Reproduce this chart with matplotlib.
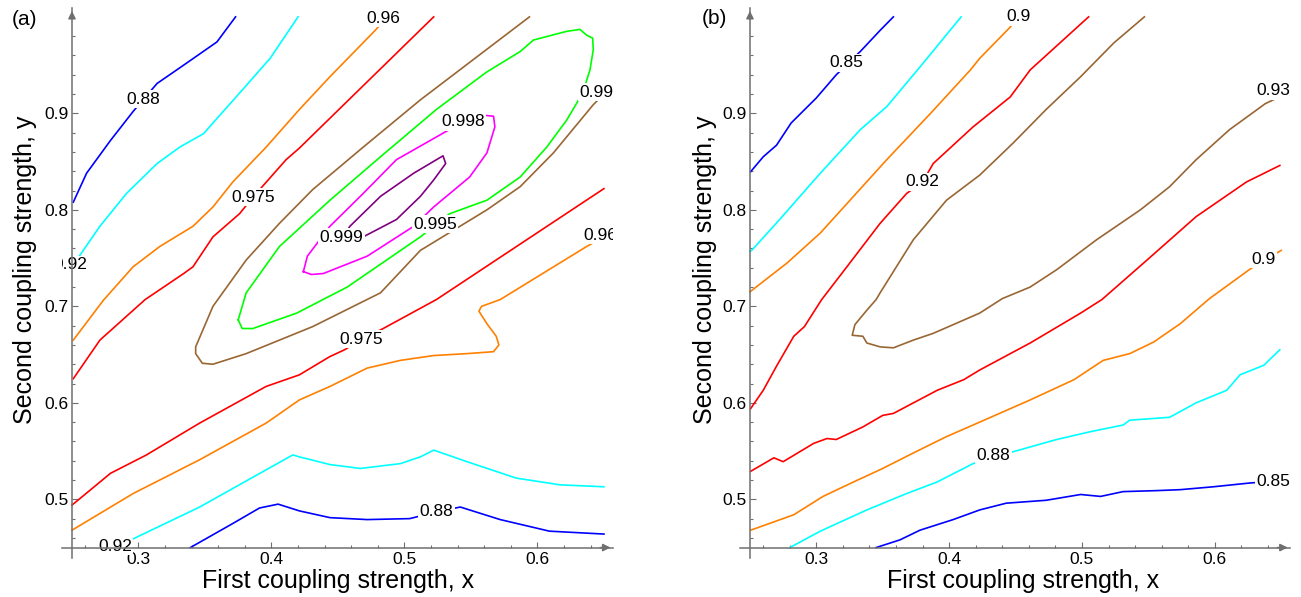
import numpy as np
import matplotlib
matplotlib.use('Agg')
import matplotlib.pyplot as plt

plt.rcParams['font.family'] = ['Liberation Sans', 'DejaVu Sans']

# ---- panel (a) contour lines ----
a_088_top_x = [0.251, 0.261, 0.279, 0.296, 0.304, 0.314, 0.334, 0.359, 0.373]
a_088_top_y = [0.808, 0.838, 0.872, 0.902, 0.915, 0.931, 0.950, 0.974, 1.000]
a_092_top_x = [0.250, 0.257, 0.271, 0.291, 0.314, 0.331, 0.349, 0.356, 0.376, 0.399, 0.420]
a_092_top_y = [0.741, 0.755, 0.783, 0.817, 0.848, 0.865, 0.879, 0.890, 0.921, 0.957, 1.000]
a_096_top_x = [0.251, 0.274, 0.276, 0.296, 0.316, 0.341, 0.356, 0.371, 0.396, 0.421, 0.444, 0.478, 0.487]
a_096_top_y = [0.665, 0.707, 0.710, 0.741, 0.762, 0.783, 0.803, 0.829, 0.865, 0.904, 0.938, 0.986, 1.000]
a_0975_top_x = [0.251, 0.271, 0.305, 0.334, 0.341, 0.356, 0.376, 0.386, 0.411, 0.421, 0.444, 0.522]
a_0975_top_y = [0.625, 0.665, 0.707, 0.734, 0.741, 0.772, 0.796, 0.813, 0.852, 0.864, 0.895, 1.000]
a_099_x = [0.594, 0.512, 0.469, 0.431, 0.406, 0.381, 0.356, 0.343, 0.343, 0.348, 0.356, 0.381,
           0.431, 0.482, 0.512, 0.537, 0.562, 0.587, 0.612, 0.642, 0.650]
a_099_y = [1.000, 0.914, 0.865, 0.821, 0.786, 0.748, 0.700, 0.658, 0.651, 0.641, 0.640, 0.651,
           0.679, 0.714, 0.758, 0.779, 0.800, 0.824, 0.859, 0.909, 0.920]
a_0995_x = [0.375, 0.381, 0.406, 0.444, 0.482, 0.524, 0.562, 0.587, 0.597, 0.622, 0.632, 0.637,
            0.6415, 0.642, 0.6395, 0.634, 0.622, 0.607, 0.587, 0.562, 0.534, 0.512, 0.457, 0.419,
            0.386, 0.378, 0.375]
a_0995_y = [0.686, 0.714, 0.762, 0.810, 0.855, 0.904, 0.943, 0.964, 0.976, 0.985, 0.987, 0.981,
            0.978, 0.966, 0.945, 0.921, 0.893, 0.865, 0.834, 0.810, 0.796, 0.772, 0.720, 0.693,
            0.677, 0.677, 0.686]
a_0998_x = [0.424, 0.430, 0.439, 0.472, 0.507, 0.522, 0.549, 0.562, 0.568, 0.567, 0.560, 0.545,
            0.531, 0.494, 0.469, 0.444, 0.427, 0.424]
a_0998_y = [0.736, 0.733, 0.734, 0.752, 0.783, 0.803, 0.834, 0.859, 0.886, 0.897, 0.898, 0.891,
            0.881, 0.852, 0.817, 0.783, 0.752, 0.736]
a_0999_x = [0.453, 0.469, 0.494, 0.512, 0.522, 0.531, 0.529, 0.507, 0.482, 0.459, 0.453]
a_0999_y = [0.770, 0.772, 0.790, 0.814, 0.831, 0.848, 0.856, 0.838, 0.814, 0.783, 0.770]
a_0975_low_x = [0.250, 0.279, 0.306, 0.346, 0.396, 0.421, 0.444, 0.455, 0.468, 0.484, 0.524, 0.650]
a_0975_low_y = [0.494, 0.527, 0.546, 0.579, 0.617, 0.629, 0.648, 0.655, 0.666, 0.677, 0.707, 0.822]
a_096_low_x = [0.250, 0.296, 0.346, 0.396, 0.421, 0.444, 0.472, 0.497, 0.522, 0.547, 0.567, 0.571,
               0.569, 0.562, 0.556, 0.558, 0.572, 0.637, 0.650]
a_096_low_y = [0.468, 0.506, 0.541, 0.579, 0.603, 0.617, 0.636, 0.644, 0.649, 0.651, 0.653, 0.660,
               0.669, 0.682, 0.695, 0.700, 0.707, 0.762, 0.772]
a_092_low_x = [0.285, 0.296, 0.346, 0.416, 0.421, 0.444, 0.467, 0.497, 0.512, 0.522, 0.547, 0.584,
               0.617, 0.650]
a_092_low_y = [0.450, 0.459, 0.492, 0.546, 0.544, 0.536, 0.532, 0.537, 0.544, 0.551, 0.539, 0.522,
               0.515, 0.513]
a_088_low_x = [0.339, 0.371, 0.391, 0.405, 0.421, 0.444, 0.472, 0.504, 0.524, 0.542, 0.572, 0.609, 0.650]
a_088_low_y = [0.450, 0.475, 0.491, 0.495, 0.488, 0.481, 0.479, 0.480, 0.487, 0.492, 0.479, 0.467, 0.464]

a_labels = ['0.88', '0.92', '0.96', '0.975', '0.998', '0.99', '0.999', '0.995', '0.96', '0.975', '0.92', '0.88']
a_label_x = [0.3036, 0.2489, 0.4841, 0.3863, 0.5438, 0.6445, 0.4528, 0.5229, 0.6470, 0.4678, 0.2823, 0.5242]
a_label_y = [0.9146, 0.7429, 0.9985, 0.8130, 0.8913, 0.9218, 0.7716, 0.7853, 0.7739, 0.6659, 0.4510, 0.4872]

# ---- panel (b) contour lines ----
b_085_top_x = [0.2505, 0.260, 0.270, 0.281, 0.300, 0.315, 0.333, 0.348, 0.358]
b_085_top_y = [0.8395, 0.855, 0.867, 0.890, 0.916, 0.940, 0.964, 0.986, 1.000]
b_088_top_x = [0.250, 0.2513, 0.273, 0.303, 0.333, 0.353, 0.378, 0.409]
b_088_top_y = [0.757, 0.758, 0.791, 0.838, 0.883, 0.907, 0.948, 1.000]
b_09_top_x = [0.250, 0.278, 0.303, 0.328, 0.353, 0.386, 0.416, 0.423, 0.445, 0.4525]
b_09_top_y = [0.715, 0.745, 0.776, 0.814, 0.852, 0.900, 0.945, 0.957, 0.988, 1.000]
b_092_top_x = [0.2505, 0.260, 0.270, 0.283, 0.291, 0.304, 0.323, 0.348, 0.368, 0.380, 0.388,
               0.418, 0.446, 0.461, 0.505]
b_092_top_y = [0.594, 0.613, 0.638, 0.669, 0.679, 0.707, 0.741, 0.786, 0.817, 0.829, 0.848,
               0.886, 0.917, 0.945, 1.000]
b_093_x = [0.547, 0.524, 0.499, 0.473, 0.448, 0.423, 0.398, 0.373, 0.348, 0.345, 0.338, 0.329,
           0.327, 0.335, 0.338, 0.348, 0.358, 0.373, 0.388, 0.408, 0.423, 0.440, 0.461, 0.481,
           0.511, 0.544, 0.566, 0.586, 0.611, 0.638, 0.650]
b_093_y = [1.000, 0.973, 0.938, 0.904, 0.869, 0.836, 0.810, 0.769, 0.714, 0.707, 0.696, 0.681,
           0.670, 0.669, 0.662, 0.658, 0.657, 0.665, 0.672, 0.684, 0.693, 0.708, 0.720, 0.738,
           0.769, 0.800, 0.824, 0.852, 0.883, 0.910, 0.918]
b_092_low_x = [0.2505, 0.268, 0.275, 0.298, 0.308, 0.315, 0.335, 0.350, 0.358, 0.391, 0.411,
               0.423, 0.461, 0.499, 0.515, 0.549, 0.586, 0.624, 0.649]
b_092_low_y = [0.529, 0.543, 0.539, 0.558, 0.563, 0.562, 0.575, 0.587, 0.589, 0.613, 0.624,
               0.634, 0.662, 0.693, 0.707, 0.748, 0.793, 0.829, 0.846]
b_09_low_x = [0.2505, 0.283, 0.305, 0.328, 0.350, 0.373, 0.398, 0.418, 0.461, 0.494, 0.516, 0.536,
              0.554, 0.574, 0.596, 0.627, 0.650]
b_09_low_y = [0.468, 0.484, 0.503, 0.518, 0.532, 0.548, 0.565, 0.577, 0.603, 0.624, 0.644, 0.651,
              0.663, 0.682, 0.708, 0.739, 0.758]
b_088_low_x = [0.280, 0.303, 0.338, 0.368, 0.391, 0.418, 0.450, 0.481, 0.506, 0.531, 0.536, 0.566,
               0.586, 0.609, 0.619, 0.637, 0.649]
b_088_low_y = [0.450, 0.467, 0.489, 0.506, 0.518, 0.537, 0.550, 0.562, 0.570, 0.577, 0.582, 0.585,
               0.600, 0.613, 0.629, 0.639, 0.655]
b_085_low_x = [0.345, 0.363, 0.378, 0.403, 0.423, 0.443, 0.473, 0.499, 0.514, 0.531, 0.556, 0.574,
               0.599, 0.627, 0.650]
b_085_low_y = [0.450, 0.458, 0.468, 0.479, 0.489, 0.496, 0.499, 0.505, 0.503, 0.508, 0.509, 0.510,
               0.513, 0.517, 0.519]

b_labels = ['0.85', '0.9', '0.92', '0.93', '0.9', '0.88', '0.85']
b_label_x = [0.3228, 0.4520, 0.3797, 0.6440, 0.6365, 0.4332, 0.6440]
b_label_y = [0.9525, 1.0000, 0.8292, 0.9235, 0.7488, 0.5449, 0.5183]

BLUE, CYAN, ORANGE, RED = '#0000ff', '#00ffff', '#ff8000', '#ff0000'
BROWN, GREEN, MAGENTA, PURPLE = '#996633', '#00ff00', '#ff00ff', '#800080'
AXC = '#6f6f6f'

a_lines = [(a_088_top_x, a_088_top_y, BLUE), (a_092_top_x, a_092_top_y, CYAN),
           (a_096_top_x, a_096_top_y, ORANGE), (a_0975_top_x, a_0975_top_y, RED),
           (a_099_x, a_099_y, BROWN), (a_0995_x, a_0995_y, GREEN),
           (a_0998_x, a_0998_y, MAGENTA), (a_0999_x, a_0999_y, PURPLE),
           (a_0975_low_x, a_0975_low_y, RED), (a_096_low_x, a_096_low_y, ORANGE),
           (a_092_low_x, a_092_low_y, CYAN), (a_088_low_x, a_088_low_y, BLUE)]
b_lines = [(b_085_top_x, b_085_top_y, BLUE), (b_088_top_x, b_088_top_y, CYAN),
           (b_09_top_x, b_09_top_y, ORANGE), (b_092_top_x, b_092_top_y, RED),
           (b_093_x, b_093_y, BROWN), (b_092_low_x, b_092_low_y, RED),
           (b_09_low_x, b_09_low_y, ORANGE), (b_088_low_x, b_088_low_y, CYAN),
           (b_085_low_x, b_085_low_y, BLUE)]


def draw_panel(ax, lines, labels, lx, ly):
    ax.set_xlim(0.2425, 0.657)
    ax.set_ylim(0.4396, 1.009)
    for s in ['top', 'right']:
        ax.spines[s].set_visible(False)
    ax.spines['left'].set_position(('data', 0.25))
    ax.spines['bottom'].set_position(('data', 0.45))
    for s in ['left', 'bottom']:
        ax.spines[s].set_color(AXC)
        ax.spines[s].set_linewidth(1.1)
        ax.spines[s].set_zorder(2.5)
    ax.set_xticks([0.3, 0.4, 0.5, 0.6])
    ax.set_xticklabels(['0.3', '0.4', '0.5', '0.6'])
    ax.set_yticks([0.5, 0.6, 0.7, 0.8, 0.9])
    ax.set_yticklabels(['0.5', '0.6', '0.7', '0.8', '0.9'])
    ax.set_xticks(np.arange(0.26, 0.65, 0.02), minor=True)
    ax.set_yticks(np.arange(0.46, 1.0, 0.02), minor=True)
    ax.tick_params(which='both', direction='in', color=AXC, width=0.8, labelsize=12.5)
    ax.tick_params(which='major', length=4)
    ax.tick_params(which='minor', length=2.2)
    ax.tick_params(axis='x', pad=3.5)
    ax.tick_params(axis='y', pad=2.5)
    ax.annotate('', xy=(0.657, 0.45), xytext=(0.645, 0.45), annotation_clip=False,
                arrowprops=dict(arrowstyle='-|>', color=AXC, lw=1.1, mutation_scale=11))
    ax.annotate('', xy=(0.25, 1.009), xytext=(0.25, 0.995), annotation_clip=False,
                arrowprops=dict(arrowstyle='-|>', color=AXC, lw=1.1, mutation_scale=11))
    for xs, ys, c in lines:
        ax.plot(xs, ys, color=c, lw=1.2, zorder=2)
    for t, x, y in zip(labels, lx, ly):
        ax.text(x, y, t, ha='center', va='center', fontsize=12.5, zorder=2.2, clip_on=True,
                bbox=dict(boxstyle='square,pad=0.08', facecolor='white', edgecolor='none'))


fig = plt.figure(figsize=(13.01, 5.97), dpi=100)
ax_a = fig.add_axes([0.04766, 0.066, 0.4237, 0.9203])
ax_b = fig.add_axes([0.5688, 0.066, 0.4231, 0.9203])
draw_panel(ax_a, a_lines, a_labels, a_label_x, a_label_y)
draw_panel(ax_b, b_lines, b_labels, b_label_x, b_label_y)

fig.text(0.2598, 0.0146, 'First coupling strength, x', ha='center', va='baseline', fontsize=18)
fig.text(0.7866, 0.0146, 'First coupling strength, x', ha='center', va='baseline', fontsize=18)
fig.text(0.0192, 0.5477, 'Second coupling strength, y', ha='center', va='center', rotation=90, fontsize=18)
fig.text(0.5419, 0.5477, 'Second coupling strength, y', ha='center', va='center', rotation=90, fontsize=18)
fig.text(0.01845, 0.9665, '(a)', ha='center', va='center', fontsize=15)
fig.text(0.5492, 0.9698, '(b)', ha='center', va='center', fontsize=15)

fig.savefig('out.png', dpi=100)
